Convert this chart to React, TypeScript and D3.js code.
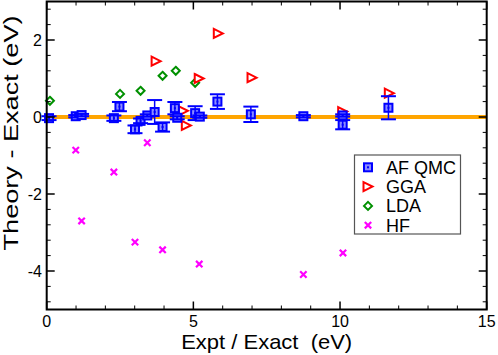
import React from "react";
import * as d3 from "d3";

const qmcX = [0.08, 0.99, 1.19, 2.29, 2.48, 3.01, 3.2, 3.43, 3.68, 3.95, 4.37, 4.45, 5.06, 5.22, 5.82, 6.96, 8.75, 10.09, 10.09, 11.65];
const qmcY = [-0.03, 0.02, 0.05, -0.03, 0.27, -0.32, -0.1, 0.04, 0.13, -0.26, 0.23, -0.02, 0.1, 0.01, 0.4, 0.07, 0.02, 0.04, -0.2, 0.24];
const qmcErr = [0.05, 0.03, 0.03, 0.07, 0.12, 0.1, 0.06, 0.03, 0.31, 0.12, 0.16, 0.04, 0.18, 0.03, 0.19, 0.2, 0.03, 0.03, 0.12, 0.3];

const ggaX = [3.73, 4.66, 4.76, 5.2, 5.85, 7.0, 10.09, 11.68];
const ggaY = [1.45, 0.16, -0.22, 1.0, 2.17, 1.02, 0.14, 0.62];

const ldaX = [0.11, 2.5, 3.2, 3.95, 4.4, 5.06];
const ldaY = [0.42, 0.6, 0.68, 1.07, 1.2, 0.89];

const hfX = [0.99, 1.19, 2.29, 3.01, 3.43, 3.95, 5.2, 8.75, 10.1];
const hfY = [-0.86, -2.7, -1.43, -3.25, -0.67, -3.45, -3.82, -4.09, -3.53];

const xMajor = [0, 5, 10, 15];
const yMajor = [-4, -2, 0, 2];
const legendLabels = ["AF QMC", "GGA", "LDA", "HF"];

const W = 498;
const H = 355;
const L = 46.7, R = 486.7, T = 1.5, B = 309.5;
const FONT = "'Liberation Sans', Arial, Helvetica, sans-serif";
const BLUE = "#0000ff";
const RED = "#ff0000";
const GREEN = "#009000";
const MAG = "#ff00ff";
const ORANGE = "#ffa500";

function Square({ cx, cy }: { cx: number; cy: number }) {
  const s = 8;
  return (
    <g>
      <rect x={cx - s / 2} y={cy - s / 2} width={s} height={s} fill="#8c8cff" stroke={BLUE} strokeWidth={2} />
      <rect x={cx - 1} y={cy - 1} width={2} height={2} fill={BLUE} />
    </g>
  );
}
function Tri({ cx, cy }: { cx: number; cy: number }) {
  const s = 4.5;
  return (
    <path d={`M${cx - s},${cy - s} L${cx + s},${cy} L${cx - s},${cy + s} Z`} fill="white" stroke={RED} strokeWidth={2} />
  );
}
function Diamond({ cx, cy }: { cx: number; cy: number }) {
  const s = 4;
  return (
    <path d={`M${cx},${cy - s} L${cx + s},${cy} L${cx},${cy + s} L${cx - s},${cy} Z`} fill="white" stroke={GREEN} strokeWidth={2} />
  );
}
function Cross({ cx, cy }: { cx: number; cy: number }) {
  const s = 3.2;
  return (
    <path d={`M${cx - s},${cy - s} L${cx + s},${cy + s} M${cx - s},${cy + s} L${cx + s},${cy - s}`} stroke={MAG} strokeWidth={2.2} fill="none" />
  );
}

export default function App() {
  const x = d3.scaleLinear().domain([0, 15]).range([L, R]);
  const y = d3.scaleLinear().domain([-5, 3]).range([B, T]);
  const xMinor = d3.range(0, 15.001, 1).filter((v) => !xMajor.includes(v));
  const yMinor = d3.range(-4.8, 3.001, 0.4).map((v) => Math.round(v * 10) / 10).filter((v) => !yMajor.includes(v) && v > -5 && v < 3);
  const maj = 8, min = 4;

  return (
    <svg width={W} height={H} style={{ position: "absolute", left: 0, top: 0, background: "white" }} fontFamily={FONT}>
      <rect x={0} y={0} width={W} height={H} fill="white" />
      {/* zero line */}
      <line x1={x(0)} x2={x(15)} y1={y(0)} y2={y(0)} stroke={ORANGE} strokeWidth={4} />
      {/* LDA */}
      {ldaX.map((v, i) => <Diamond key={"l" + i} cx={x(v)} cy={y(ldaY[i])} />)}
      {/* GGA */}
      {ggaX.map((v, i) => <Tri key={"g" + i} cx={x(v)} cy={y(ggaY[i])} />)}
      {/* HF */}
      {hfX.map((v, i) => <Cross key={"h" + i} cx={x(v)} cy={y(hfY[i])} />)}
      {/* AF QMC */}
      {qmcX.map((v, i) => {
        const cx = x(v);
        const cy = y(qmcY[i]);
        const y1 = y(qmcY[i] + qmcErr[i]);
        const y2 = y(qmcY[i] - qmcErr[i]);
        return (
          <g key={"q" + i}>
            <Square cx={cx} cy={cy} />
            <line x1={cx} x2={cx} y1={y1} y2={y2} stroke={BLUE} strokeWidth={1.5} />
            <line x1={cx - 7.5} x2={cx + 7.5} y1={y1} y2={y1} stroke={BLUE} strokeWidth={2} />
            <line x1={cx - 7.5} x2={cx + 7.5} y1={y2} y2={y2} stroke={BLUE} strokeWidth={2} />
          </g>
        );
      })}
      {/* frame */}
      <rect x={L} y={T} width={R - L} height={B - T} fill="none" stroke="black" strokeWidth={2} />
      {/* ticks */}
      {xMajor.map((v) => (
        <g key={"xm" + v}>
          <line x1={x(v)} x2={x(v)} y1={B} y2={B - maj} stroke="black" strokeWidth={1.5} />
          <line x1={x(v)} x2={x(v)} y1={T} y2={T + maj} stroke="black" strokeWidth={1.5} />
          <text x={x(v)} y={327} fontSize={16} textAnchor="middle" fill="black">{v}</text>
        </g>
      ))}
      {xMinor.map((v) => (
        <g key={"xn" + v}>
          <line x1={x(v)} x2={x(v)} y1={B} y2={B - min} stroke="black" strokeWidth={1} />
          <line x1={x(v)} x2={x(v)} y1={T} y2={T + min} stroke="black" strokeWidth={1} />
        </g>
      ))}
      {yMajor.map((v) => (
        <g key={"ym" + v}>
          <line x1={L} x2={L + maj} y1={y(v)} y2={y(v)} stroke="black" strokeWidth={1.5} />
          <line x1={R} x2={R - maj} y1={y(v)} y2={y(v)} stroke="black" strokeWidth={1.5} />
          <text x={42} y={y(v)} dy="0.36em" fontSize={16} textAnchor="end" fill="black">{v}</text>
        </g>
      ))}
      {yMinor.map((v) => (
        <g key={"yn" + v}>
          <line x1={L} x2={L + min} y1={y(v)} y2={y(v)} stroke="black" strokeWidth={1} />
          <line x1={R} x2={R - min} y1={y(v)} y2={y(v)} stroke="black" strokeWidth={1} />
        </g>
      ))}
      {/* axis titles */}
      <text x={(L + R) / 2} y={349} fontSize={21} textAnchor="middle" textLength={171} lengthAdjust="spacingAndGlyphs" fill="black" style={{ whiteSpace: "pre" }}>
        {"Expt / Exact  (eV)"}
      </text>
      <text transform="translate(18,133) rotate(-90)" fontSize={21} textAnchor="middle" textLength={235} lengthAdjust="spacingAndGlyphs" fill="black">
        Theory - Exact (eV)
      </text>
      {/* legend */}
      <rect x={354.5} y={155} width={106} height={79} fill="white" stroke="#555" strokeWidth={1.2} />
      {legendLabels.map((lab, i) => {
        const cy = 167.3 + i * 19.3;
        const mx = 368;
        return (
          <g key={lab}>
            {i === 0 && <Square cx={mx} cy={cy} />}
            {i === 1 && <Tri cx={mx} cy={cy} />}
            {i === 2 && <Diamond cx={mx} cy={cy} />}
            {i === 3 && <Cross cx={mx} cy={cy} />}
            <text x={386} y={cy} dy="0.36em" fontSize={18} fill="black">{lab}</text>
          </g>
        );
      })}
    </svg>
  );
}
